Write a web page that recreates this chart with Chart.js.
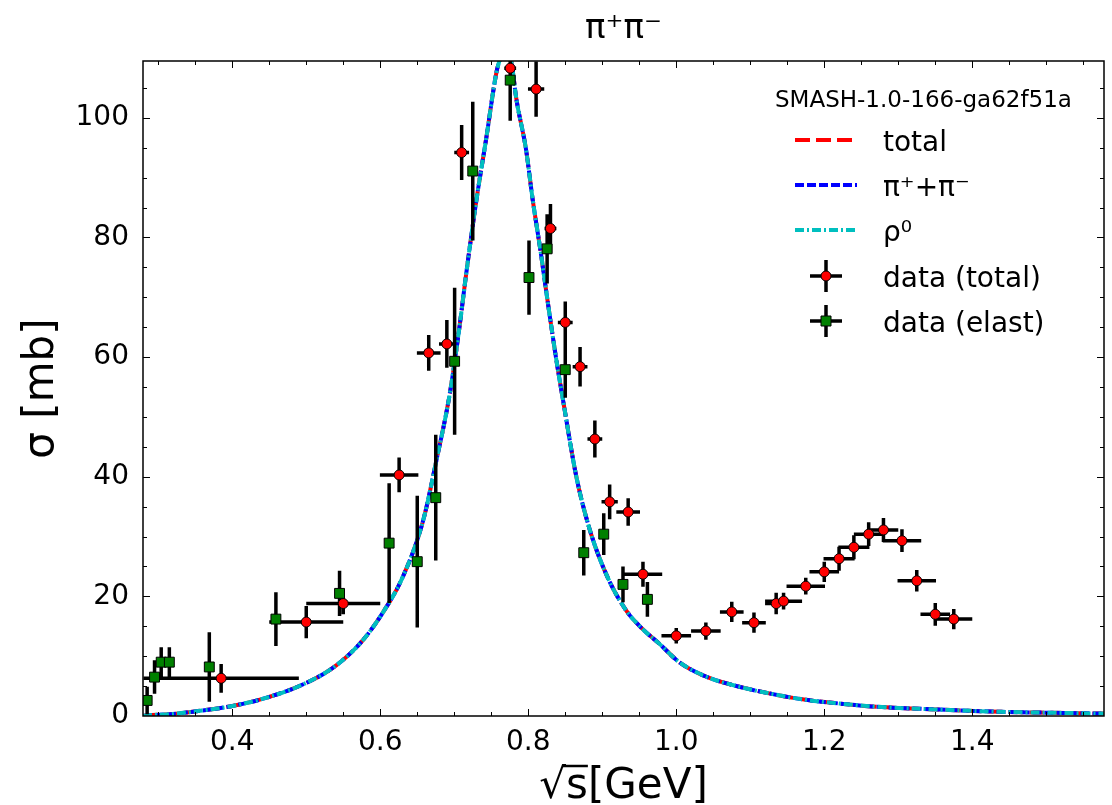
<!DOCTYPE html>
<html>
<head>
<meta charset="utf-8">
<script src="https://cdn.jsdelivr.net/npm/chart.js@4.4.1/dist/chart.umd.min.js"></script>
<style>
    html, body { margin: 0; padding: 0; background: #fff; }
    #wrap { width: 1112px; height: 805px; }
</style>
</head>
<body>
<div id="wrap"><canvas id="chart" width="1112" height="805"></canvas></div>
<script>
// Значения
const xMin = 0.2794, xMax = 1.578;
const yMin = 0, yMax = 109.5;
const xTicks = [0.4, 0.6, 0.8, 1.0, 1.2, 1.4];
const yTicks = [0, 20, 40, 60, 80, 100];

// модельные кривые (все три совпадают в пределах толщины линии)
const curveSqrtS = [0.2794, 0.285, 0.316, 0.352, 0.397, 0.442, 0.496, 0.541, 0.576, 0.602, 0.631, 0.658, 0.676, 0.694, 0.707, 0.716, 0.730, 0.743, 0.757, 0.761, 0.769, 0.777, 0.784, 0.797, 0.806, 0.817, 0.826, 0.838, 0.847, 0.865, 0.882, 0.905, 0.932, 0.954, 0.977, 1.004, 1.040, 1.085, 1.129, 1.175, 1.219, 1.264, 1.350, 1.439, 1.529, 1.578];
const curveTotal = [0, 0.1, 0.3, 0.8, 1.6, 2.9, 5.3, 8.5, 12.6, 17.0, 23.4, 32.7, 42.8, 53.9, 65.0, 73.8, 86.3, 96.4, 107.6, 109.5, 112.0, 109.5, 103.1, 94.7, 86.3, 77.4, 69.5, 59.5, 52.8, 40.0, 31.6, 23.8, 17.7, 14.6, 12.1, 9.0, 6.6, 4.9, 3.7, 2.7, 2.1, 1.6, 1.1, 0.7, 0.5, 0.4];
const curvePiPi = curveTotal;
const curveRho = curveTotal;

// data (total)
const totalX    = [0.385, 0.500, 0.550, 0.6255, 0.6655, 0.690, 0.710, 0.7756, 0.8106, 0.830, 0.850, 0.870, 0.890, 0.910, 0.935, 0.955, 1.000, 1.040, 1.075, 1.105, 1.135, 1.145, 1.175, 1.200, 1.220, 1.240, 1.260, 1.280, 1.305, 1.325, 1.350, 1.375];
const totalY    = [6.3, 15.7, 18.8, 40.3, 60.7, 62.2, 94.2, 108.3, 104.8, 81.5, 65.8, 58.4, 46.3, 35.8, 34.1, 23.7, 13.4, 14.2, 17.4, 15.6, 18.8, 19.2, 21.7, 24.1, 26.3, 28.2, 30.4, 31.1, 29.3, 22.6, 17.0, 16.2];
const totalXErr = [0.105, 0.05, 0.05, 0.026, 0.016, 0.0106, 0.01, 0.008, 0.011, 0.008, 0.01, 0.01, 0.01, 0.011, 0.016, 0.026, 0.02, 0.02, 0.016, 0.016, 0.015, 0.025, 0.026, 0.02, 0.021, 0.021, 0.02, 0.02, 0.026, 0.026, 0.02, 0.025];
const totalYErr = [2.4, 2.7, 1.8, 2.9, 3.0, 4.0, 4.6, 5.0, 4.6, 4.1, 3.5, 3.3, 3.1, 2.9, 2.3, 2.1, 1.3, 1.45, 1.7, 1.7, 1.8, 1.4, 1.4, 1.7, 2.0, 2.0, 2.0, 2.0, 1.9, 1.8, 1.9, 1.7];

// data (elast)
const elastX    = [0.285, 0.295, 0.304, 0.315, 0.369, 0.459, 0.545, 0.612, 0.650, 0.675, 0.7005, 0.725, 0.7756, 0.801, 0.8255, 0.850, 0.875, 0.902, 0.928, 0.961];
const elastY    = [2.6, 6.5, 9.0, 9.0, 8.2, 16.2, 20.5, 28.9, 25.8, 36.5, 59.3, 91.1, 106.3, 73.3, 78.1, 57.9, 27.3, 30.4, 22.0, 19.5];
const elastYErr = [2.3, 2.8, 2.5, 2.5, 5.8, 4.5, 3.8, 10.0, 11.0, 10.5, 12.3, 11.6, 6.8, 6.2, 5.8, 4.7, 3.8, 3.5, 3.0, 2.9];

const FONT = "'DejaVu Sans', sans-serif";

function toPoints(xs, ys) {
    return xs.map((x, i) => ({ x: x, y: ys[i] }));
}

// усы ошибок рисуются через шкалы Chart.js перед маркерами
const errorBars = {
    id: 'errorBars',
    beforeDatasetDraw(chart, args) {
        if (args.index !== 1) return;
        const ctx = chart.ctx;
        const xs = chart.scales.x, ys = chart.scales.y;
        const a = chart.chartArea;
        ctx.save();
        ctx.beginPath();
        ctx.rect(a.left, a.top, a.right - a.left, a.bottom - a.top);
        ctx.clip();
        ctx.strokeStyle = '#000';
        ctx.lineWidth = 3.5;
        ctx.beginPath();
        totalX.forEach((x, i) => {
            const px = xs.getPixelForValue(x), py = ys.getPixelForValue(totalY[i]);
            ctx.moveTo(xs.getPixelForValue(x - totalXErr[i]), py);
            ctx.lineTo(xs.getPixelForValue(x + totalXErr[i]), py);
            ctx.moveTo(px, ys.getPixelForValue(totalY[i] - totalYErr[i]));
            ctx.lineTo(px, ys.getPixelForValue(totalY[i] + totalYErr[i]));
        });
        elastX.forEach((x, i) => {
            const px = xs.getPixelForValue(x);
            ctx.moveTo(px, ys.getPixelForValue(Math.max(0, elastY[i] - elastYErr[i])));
            ctx.lineTo(px, ys.getPixelForValue(elastY[i] + elastYErr[i]));
        });
        ctx.stroke();
        ctx.restore();
    }
};

// рамка и засечки внутрь со всех четырёх сторон
const frameTicks = {
    id: 'frameTicks',
    afterDatasetsDraw(chart) {
        const ctx = chart.ctx;
        const xs = chart.scales.x, ys = chart.scales.y;
        const a = chart.chartArea;
        ctx.save();
        ctx.strokeStyle = '#000';
        ctx.lineWidth = 1;
        ctx.beginPath();
        for (let v = 0.3; v < xMax; v += 0.05) {
            const px = Math.round(xs.getPixelForValue(v)) + 0.5;
            const major = xTicks.some(t => Math.abs(t - v) < 1e-6);
            const len = major ? 7 : 4;
            ctx.moveTo(px, a.bottom); ctx.lineTo(px, a.bottom - len);
            ctx.moveTo(px, a.top); ctx.lineTo(px, a.top + len);
        }
        for (let v = 5; v < yMax; v += 5) {
            const py = Math.round(ys.getPixelForValue(v)) + 0.5;
            const len = (v % 20 === 0) ? 7 : 4;
            ctx.moveTo(a.left, py); ctx.lineTo(a.left + len, py);
            ctx.moveTo(a.right, py); ctx.lineTo(a.right - len, py);
        }
        ctx.stroke();
        ctx.lineWidth = 1.5;
        ctx.strokeRect(a.left, a.top, a.right - a.left, a.bottom - a.top);
        ctx.restore();
    },
    afterDraw(chart) {
        const ctx = chart.ctx;
        const a = chart.chartArea;
        const cx = (a.left + a.right) / 2;
        ctx.save();
        ctx.fillStyle = '#000';

        // заголовок
        ctx.font = '34px ' + FONT;
        ctx.textAlign = 'center';
        ctx.textBaseline = 'alphabetic';
        ctx.fillText('π⁺π⁻', cx, 38);

        // подпись оси x
        ctx.font = '42px ' + FONT;
        ctx.textAlign = 'left';
        const label = '√s[GeV]';
        const w = ctx.measureText(label).width;
        const x0 = cx - w / 2;
        ctx.fillText(label, x0, 798);
        const wRad = ctx.measureText('√').width;
        const wS = ctx.measureText('s').width;
        ctx.lineWidth = 2.5;
        ctx.beginPath();
        ctx.moveTo(x0 + wRad - 3, 766);
        ctx.lineTo(x0 + wRad + wS, 766);
        ctx.stroke();

        // подпись оси y
        ctx.save();
        ctx.translate(42, (a.top + a.bottom) / 2);
        ctx.rotate(-Math.PI / 2);
        ctx.textAlign = 'center';
        ctx.textBaseline = 'middle';
        ctx.font = '42px ' + FONT;
        ctx.fillText('σ [mb]', 0, 0);
        ctx.restore();

        // легенда
        ctx.textAlign = 'left';
        ctx.textBaseline = 'alphabetic';
        ctx.font = '23px ' + FONT;
        ctx.fillText('SMASH-1.0-166-ga62f51a', 775, 107);

        const lx0 = 795, lx1 = 857, tx = 883;
        const lines = [
            { y: 140, color: '#ff0000', dash: [15, 6], text: 'total' },
            { y: 185, color: '#0000ff', dash: [9, 3], text: 'π⁺+π⁻' },
            { y: 230, color: '#00bfbf', dash: [9, 3, 2, 3], text: 'ρ⁰' }
        ];
        ctx.font = '28px ' + FONT;
        lines.forEach(l => {
            ctx.save();
            ctx.strokeStyle = l.color;
            ctx.lineWidth = 4;
            ctx.setLineDash(l.dash);
            ctx.beginPath();
            ctx.moveTo(lx0, l.y);
            ctx.lineTo(lx1, l.y);
            ctx.stroke();
            ctx.restore();
            ctx.fillText(l.text, tx, l.y + 11);
        });

        const marks = [
            { y: 276, text: 'data (total)', circle: true, color: '#ff0000' },
            { y: 321, text: 'data (elast)', circle: false, color: '#008000' }
        ];
        const mx = 826;
        marks.forEach(m => {
            ctx.strokeStyle = '#000';
            ctx.lineWidth = 3.5;
            ctx.beginPath();
            ctx.moveTo(mx - 16, m.y); ctx.lineTo(mx + 16, m.y);
            ctx.moveTo(mx, m.y - 16); ctx.lineTo(mx, m.y + 16);
            ctx.stroke();
            ctx.fillStyle = m.color;
            ctx.lineWidth = 1;
            ctx.beginPath();
            if (m.circle) {
                ctx.arc(mx, m.y, 5, 0, Math.PI * 2);
            } else {
                ctx.rect(mx - 5, m.y - 5, 10, 10);
            }
            ctx.fill();
            ctx.stroke();
            ctx.fillStyle = '#000';
            ctx.fillText(m.text, tx, m.y + 11);
        });
        ctx.restore();
    }
};

const curveStyle = {
    type: 'line',
    pointRadius: 0,
    borderWidth: 4,
    cubicInterpolationMode: 'monotone',
    fill: false
};

new Chart(document.getElementById('chart'), {
    type: 'scatter',
    data: {
        datasets: [
            {
                label: 'data (elast)',
                data: toPoints(elastX, elastY),
                pointStyle: 'rect',
                pointRadius: 7,
                pointBackgroundColor: '#008000',
                pointBorderColor: '#000',
                pointBorderWidth: 1,
                order: 0
            },
            {
                label: 'data (total)',
                data: toPoints(totalX, totalY),
                pointStyle: 'circle',
                pointRadius: 5,
                pointBackgroundColor: '#ff0000',
                pointBorderColor: '#000',
                pointBorderWidth: 1,
                order: 1
            },
            Object.assign({}, curveStyle, {
                label: 'ρ⁰',
                data: toPoints(curveSqrtS, curveRho),
                borderColor: '#00bfbf',
                borderDash: [9, 3, 2, 3],
                order: 2
            }),
            Object.assign({}, curveStyle, {
                label: 'π⁺+π⁻',
                data: toPoints(curveSqrtS, curvePiPi),
                borderColor: '#0000ff',
                borderDash: [9, 3],
                order: 3
            }),
            Object.assign({}, curveStyle, {
                label: 'total',
                data: toPoints(curveSqrtS, curveTotal),
                borderColor: '#ff0000',
                borderDash: [15, 6],
                order: 4
            })
        ]
    },
    options: {
        responsive: false,
        animation: false,
        devicePixelRatio: 1,
        layout: { padding: { top: 61, right: 6, left: 0, bottom: 0 } },
        plugins: {
            legend: { display: false },
            tooltip: { enabled: false },
            title: { display: false }
        },
        scales: {
            x: {
                type: 'linear',
                min: xMin,
                max: xMax,
                grid: { display: false, drawTicks: false },
                border: { display: false },
                afterBuildTicks: s => { s.ticks = xTicks.map(v => ({ value: v })); },
                afterFit: s => { s.height = 89; },
                ticks: {
                    padding: 10,
                    color: '#000',
                    font: { family: FONT, size: 28 },
                    callback: v => Number(v).toFixed(1)
                }
            },
            y: {
                type: 'linear',
                min: yMin,
                max: yMax,
                grid: { display: false, drawTicks: false },
                border: { display: false },
                afterBuildTicks: s => { s.ticks = yTicks.map(v => ({ value: v })); },
                afterFit: s => { s.width = 143; },
                ticks: {
                    padding: 14,
                    color: '#000',
                    font: { family: FONT, size: 28 },
                    callback: v => String(v)
                }
            }
        }
    },
    plugins: [errorBars, frameTicks]
});
</script>
</body>
</html>
